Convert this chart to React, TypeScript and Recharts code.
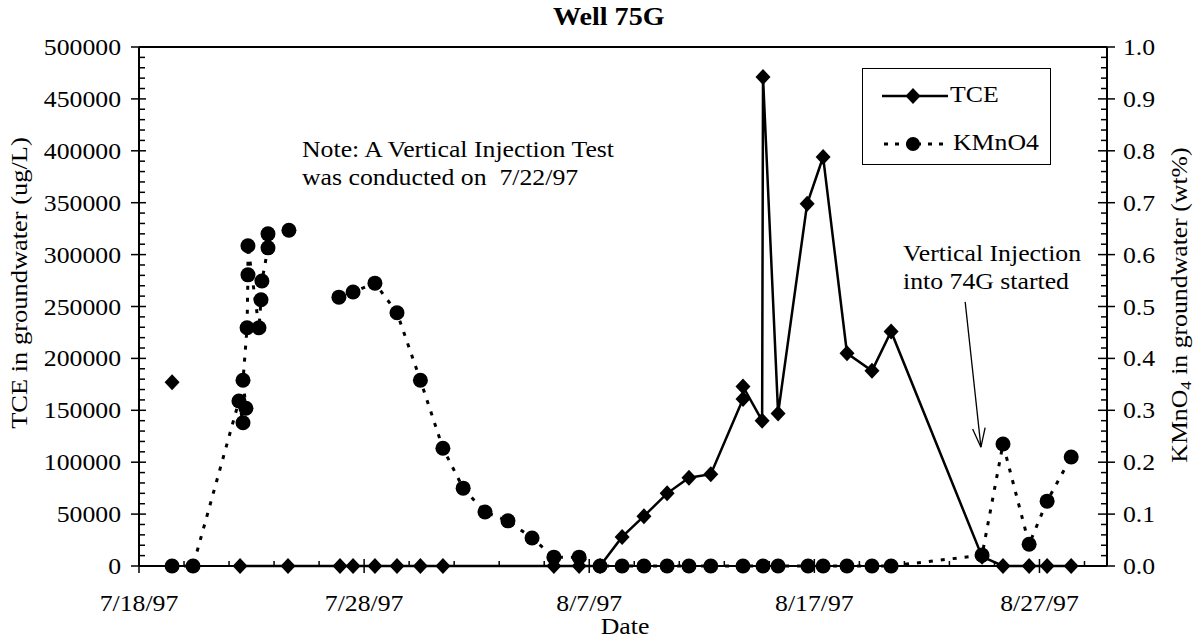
import React from "react";
import { ComposedChart, Line, XAxis, YAxis, ReferenceLine } from "recharts";

// days since 7/18/97
const tceDays = [1.47, 3.0, 4.49, 6.62, 8.93, 9.51, 10.48, 11.46, 12.5, 13.5, 18.43, 19.55, 20.48, 21.46, 22.43, 23.46, 24.43, 25.4, 26.83, 26.83, 27.68, 27.72, 28.39, 29.68, 30.39, 31.45, 32.56, 33.41, 37.45, 38.38, 39.54, 40.34, 41.41];
const tceValues = [177000, null, 0, 0, 0, 0, 0, 0, 0, 0, 0, 0, 0, 28000, 48000, 70000, 85000, 88500, 161000, 173000, 140000, 471000, 147000, 349000, 394000, 205000, 188000, 226000, 9000, 0, 0, 0, 0];

const kmDays = [1.47, 2.4, 4.44, 4.62, 4.75, 4.62, 4.8, 4.84, 4.84, 5.33, 5.42, 5.46, 5.73, 5.73, 6.2, 6.66, 7.8, 8.88, 9.51, 10.48, 11.46, 12.5, 13.5, 14.4, 15.37, 16.39, 17.46, 18.43, 19.55, 20.48, 21.46, 22.43, 23.46, 24.43, 25.4, 26.83, 27.72, 28.39, 29.72, 30.39, 31.45, 32.56, 33.41, 37.45, 38.38, 39.54, 40.34, 41.41];
const kmValues = [0, 0, 0.318, 0.276, 0.304, 0.358, 0.459, 0.561, 0.617, 0.459, 0.513, 0.549, 0.613, 0.64, null, 0.647, null, 0.518, 0.528, 0.545, 0.488, 0.358, 0.227, 0.15, 0.104, 0.087, 0.054, 0.017, 0.017, 0, 0, 0, 0, 0, 0, 0, 0, 0, 0, 0, 0, 0, 0, 0.021, 0.235, 0.042, 0.125, 0.21];

const xTickLabels = ["7/18/97", "7/28/97", "8/7/97", "8/17/97", "8/27/97"];

const FONT = '"Liberation Serif", "Times New Roman", serif';
const WIDEN = 1.12; // the scan's serif face is set wider than Liberation Serif

const tceData = tceDays.map((d, i) => ({ d, v: tceValues[i] }));
const kmData = kmDays.map((d, i) => ({ d, v: kmValues[i] }));

const xTicks = Array.from({ length: 22 }, (_, i) => i * 2);
const leftTicks = Array.from({ length: 51 }, (_, i) => i * 10000);
const rightTicks = Array.from({ length: 51 }, (_, i) => +(i * 0.02).toFixed(2));

function TickText({ x, y, anchor, children }: any) {
  return (
    <text
      transform={`translate(${x} ${y}) scale(${WIDEN} 1)`}
      dy="0.35em"
      textAnchor={anchor}
      fontFamily={FONT}
      fontSize={23}
      fill="#000"
    >
      {children}
    </text>
  );
}

function XTick(props: any) {
  const { x, y, payload } = props;
  const v = payload.value;
  if (v % 10 !== 0) {
    return <line x1={x} x2={x} y1={y - 5} y2={y} stroke="#000" strokeWidth={1.5} />;
  }
  return (
    <g>
      <line x1={x} x2={x} y1={y - 7} y2={y + 7} stroke="#000" strokeWidth={1.5} />
      <TickText x={x} y={y + 37} anchor="middle">
        {xTickLabels[v / 10]}
      </TickText>
    </g>
  );
}

function LeftTick(props: any) {
  const { x, y, index } = props;
  if (index % 5 !== 0) {
    return <line x1={x} x2={x + 6} y1={y} y2={y} stroke="#000" strokeWidth={1.5} />;
  }
  return (
    <g>
      <line x1={x - 8} x2={x + 7} y1={y} y2={y} stroke="#000" strokeWidth={1.5} />
      <TickText x={x - 18} y={y} anchor="end">
        {index * 10000}
      </TickText>
    </g>
  );
}

function RightTick(props: any) {
  const { x, y, index } = props;
  if (index % 5 !== 0) {
    return <line x1={x - 6} x2={x} y1={y} y2={y} stroke="#000" strokeWidth={1.5} />;
  }
  return (
    <g>
      <line x1={x - 9} x2={x + 8} y1={y} y2={y} stroke="#000" strokeWidth={1.5} />
      <TickText x={x + 16} y={y} anchor="start">
        {(index * 0.02).toFixed(1)}
      </TickText>
    </g>
  );
}

function Diamond(props: any) {
  const { cx, cy, payload } = props;
  if (cx == null || cy == null || payload?.v == null) return <g key={props.key} />;
  return (
    <polygon
      key={props.key}
      points={`${cx},${cy - 8} ${cx + 7.5},${cy} ${cx},${cy + 8} ${cx - 7.5},${cy}`}
      fill="#000"
    />
  );
}

function Dot(props: any) {
  const { cx, cy, payload } = props;
  if (cx == null || cy == null || payload?.v == null) return <g key={props.key} />;
  return <circle key={props.key} cx={cx} cy={cy} r={7.5} fill="#000" />;
}

function Arrow(props: any) {
  const { x1, y1, x2, y2 } = props;
  const ang = Math.atan2(y2 - y1, x2 - x1);
  const len = 20;
  const spread = 0.32;
  const ax = x2 - len * Math.cos(ang - spread);
  const ay = y2 - len * Math.sin(ang - spread);
  const bx = x2 - len * Math.cos(ang + spread);
  const by = y2 - len * Math.sin(ang + spread);
  return (
    <g>
      <line x1={x1} y1={y1} x2={x2} y2={y2} stroke="#000" strokeWidth={1.3} />
      <line x1={ax} y1={ay} x2={x2} y2={y2} stroke="#000" strokeWidth={1.3} />
      <line x1={bx} y1={by} x2={x2} y2={y2} stroke="#000" strokeWidth={1.3} />
    </g>
  );
}

const textStyle: React.CSSProperties = {
  position: "absolute",
  fontFamily: FONT,
  fontSize: 23,
  color: "#000",
  whiteSpace: "nowrap",
  lineHeight: "28px",
  transformOrigin: "0 50%",
  transform: `scaleX(${WIDEN})`,
};

const rotated: React.CSSProperties = {
  ...textStyle,
  transformOrigin: "50% 50%",
};

export default function App() {
  return (
    <div style={{ position: "absolute", left: 0, top: 0, width: 1197, height: 639, background: "#fff" }}>
      <ComposedChart width={1197} height={639} margin={{ top: 47, right: 0, bottom: 0, left: 0 }}>
        <XAxis
          dataKey="d"
          type="number"
          domain={[0, 43]}
          ticks={xTicks}
          interval={0}
          height={73}
          tickSize={0}
          tickMargin={0}
          tickLine={false}
          tick={XTick}
          axisLine={{ stroke: "#000", strokeWidth: 2 }}
          allowDataOverflow
        />
        <YAxis
          yAxisId="left"
          orientation="left"
          width={139}
          domain={[0, 500000]}
          ticks={leftTicks}
          interval={0}
          tickSize={0}
          tickMargin={0}
          tickLine={false}
          tick={LeftTick}
          axisLine={{ stroke: "#000", strokeWidth: 2 }}
        />
        <YAxis
          yAxisId="right"
          orientation="right"
          width={90}
          domain={[0, 1]}
          ticks={rightTicks}
          interval={0}
          tickSize={0}
          tickMargin={0}
          tickLine={false}
          tick={RightTick}
          axisLine={{ stroke: "#000", strokeWidth: 2 }}
        />
        <ReferenceLine yAxisId="left" y={500000} stroke="#000" strokeWidth={2} />
        <Line
          yAxisId="left"
          data={tceData}
          dataKey="v"
          name="TCE"
          stroke="#000"
          strokeWidth={2.5}
          dot={Diamond}
          activeDot={false}
          isAnimationActive={false}
        />
        <Line
          yAxisId="right"
          data={kmData}
          dataKey="v"
          name="KMnO4"
          stroke="#000"
          strokeWidth={3}
          strokeDasharray="4 8"
          dot={Dot}
          activeDot={false}
          isAnimationActive={false}
        />
        <ReferenceLine
          yAxisId="right"
          segment={[{ x: 36.7, y: 0.509 }, { x: 37.4, y: 0.229 }]}
          shape={Arrow}
        />
      </ComposedChart>

      <div style={{ ...textStyle, left: 553, top: 3, fontWeight: "bold", fontSize: 26, transform: "scaleX(1.08)" }}>
        Well 75G
      </div>
      <div style={{ ...textStyle, left: 302, top: 136 }}>
        Note: A Vertical Injection Test
        <br />
        was conducted on&nbsp; 7/22/97
      </div>
      <div style={{ ...textStyle, left: 903, top: 240 }}>
        Vertical Injection
        <br />
        into 74G started
      </div>
      <div style={{ ...rotated, left: 625, top: 627, transform: `translate(-50%, -50%) scaleX(${WIDEN})` }}>Date</div>
      <div style={{ ...rotated, left: 20, top: 283, transform: `translate(-50%, -50%) rotate(-90deg) scaleX(${WIDEN + 0.03})` }}>
        TCE in groundwater (ug/L)
      </div>
      <div style={{ ...rotated, left: 1180, top: 305, transform: `translate(-50%, -50%) rotate(-90deg) scaleX(${WIDEN})` }}>
        KMnO<sub style={{ fontSize: 15, verticalAlign: "-4px", lineHeight: 0 }}>4</sub> in groundwater (wt%)
      </div>

      <div
        style={{
          position: "absolute",
          left: 862,
          top: 68,
          width: 189,
          height: 97,
          border: "1.5px solid #000",
          boxSizing: "border-box",
          background: "#fff",
        }}
      >
        <svg width={70} height={97} style={{ position: "absolute", left: 19, top: 0 }}>
          <line x1={0} x2={66} y1={27} y2={27} stroke="#000" strokeWidth={2.5} />
          <polygon points="31,19 38.5,27 31,35 23.5,27" fill="#000" />
          <line x1={2} x2={66} y1={75} y2={75} stroke="#000" strokeWidth={3} strokeDasharray="4 7" />
          <circle cx={31} cy={75} r={7} fill="#000" />
        </svg>
        <div style={{ ...textStyle, left: 87, top: 12 }}>TCE</div>
        <div style={{ ...textStyle, left: 90, top: 60 }}>KMnO4</div>
      </div>
    </div>
  );
}
